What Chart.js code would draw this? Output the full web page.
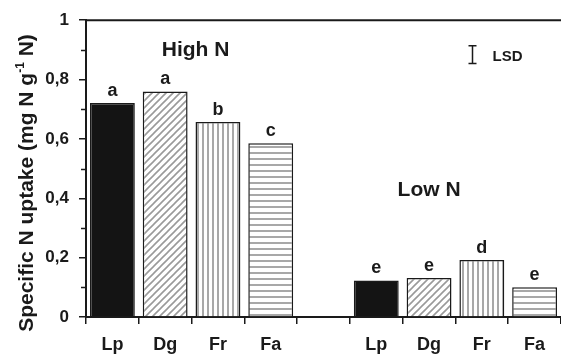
<!DOCTYPE html>
<html>
<head>
<meta charset="utf-8">
<script src="https://cdn.jsdelivr.net/npm/chart.js@4"></script>
<style>
  body { margin: 0; background: #fff; }
  canvas { display: block; }
</style>
</head>
<body>
<canvas id="uptakeChart" width="561" height="355"></canvas>
<script>
// specific N uptake per species, high vs low N supply
const species = ['Lp', 'Dg', 'Fr', 'Fa'];
const highN = [0.721, 0.760, 0.657, 0.585];
const lowN = [0.123, 0.131, 0.192, 0.100];
const highLetters = ['a', 'a', 'b', 'c'];
const lowLetters = ['e', 'e', 'd', 'e'];
const lsd = 0.06;      // LSD bar length
const lsdTop = 0.914;  // where the LSD bar starts

const FONT = '"Liberation Sans", Arial, Helvetica, sans-serif';
const INK = '#1a1a1a';

// hatch fills for the bars
function makePattern(kind) {
  const c = document.createElement('canvas');
  const g = c.getContext('2d');
  if (kind === 'diag') {
    c.width = 7; c.height = 7;
    g.fillStyle = '#fff'; g.fillRect(0, 0, 7, 7);
    g.strokeStyle = '#9a9a9a'; g.lineWidth = 1.6;
    g.beginPath();
    g.moveTo(-1, 8); g.lineTo(8, -1);
    g.moveTo(-1, 1); g.lineTo(1, -1);
    g.moveTo(6, 8); g.lineTo(8, 6);
    g.stroke();
  } else if (kind === 'vert') {
    c.width = 5; c.height = 5;
    g.fillStyle = '#fff'; g.fillRect(0, 0, 5, 5);
    g.fillStyle = '#a8a8a8'; g.fillRect(2, 0, 2, 5);
  } else {
    c.width = 6; c.height = 6;
    g.fillStyle = '#fff'; g.fillRect(0, 0, 6, 6);
    g.fillStyle = '#a8a8a8'; g.fillRect(0, 2, 6, 2);
  }
  return g.createPattern(c, 'repeat');
}

const diag = makePattern('diag');
const vert = makePattern('vert');
const horiz = makePattern('horiz');

const labels = [...species, '', ...species];
const values = [...highN, null, ...lowN];
const letters = [...highLetters, '', ...lowLetters];
const fills = ['#141414', diag, vert, horiz, 'transparent', '#141414', diag, vert, horiz];

const isMajor = v => Math.round(v * 10) % 2 === 0;

// extra drawing: frame top, minor ticks, letters, group titles, LSD, y title
const decor = {
  id: 'decor',
  afterDraw(chart) {
    const { ctx, chartArea: a } = chart;
    const x = chart.scales.x, y = chart.scales.y;
    ctx.save();
    ctx.strokeStyle = INK;
    ctx.fillStyle = INK;

    // top line
    ctx.lineWidth = 2;
    ctx.beginPath();
    ctx.moveTo(a.left, a.top);
    ctx.lineTo(a.right, a.top);
    ctx.stroke();

    // minor y ticks
    ctx.lineWidth = 1.5;
    for (let i = 1; i < 10; i += 2) {
      const py = Math.round(y.getPixelForValue(i / 10)) + 0.5;
      ctx.beginPath();
      ctx.moveTo(a.left - 5, py);
      ctx.lineTo(a.left, py);
      ctx.stroke();
    }

    // significance letters
    ctx.font = 'bold 18px ' + FONT;
    ctx.textAlign = 'center';
    ctx.textBaseline = 'alphabetic';
    chart.getDatasetMeta(0).data.forEach((bar, i) => {
      if (!letters[i]) return;
      ctx.fillText(letters[i], bar.x, bar.y - 7);
    });

    // group titles
    ctx.font = 'bold 21px ' + FONT;
    const hx = (x.getPixelForValue(1) + x.getPixelForValue(2)) / 2 + 4;
    ctx.fillText('High N', hx, y.getPixelForValue(0.88));
    ctx.fillText('Low N', x.getPixelForValue(6), y.getPixelForValue(0.409));

    // LSD bar
    const lx = Math.round(x.getPixelForValue(7) - 10) + 0.5;
    const y1 = y.getPixelForValue(lsdTop);
    const y2 = y.getPixelForValue(lsdTop - lsd);
    ctx.lineWidth = 1.5;
    ctx.beginPath();
    ctx.moveTo(lx, y1); ctx.lineTo(lx, y2);
    ctx.moveTo(lx - 4, y1); ctx.lineTo(lx + 4, y1);
    ctx.moveTo(lx - 4, y2); ctx.lineTo(lx + 4, y2);
    ctx.stroke();
    ctx.font = 'bold 15px ' + FONT;
    ctx.textAlign = 'left';
    ctx.fillText('LSD', lx + 20, (y1 + y2) / 2 + 6);

    // y axis title with superscript
    const parts = [
      { t: 'Specific N uptake (mg N g', f: 'bold 21px ' + FONT, dy: 0 },
      { t: '-1', f: 'bold 12px ' + FONT, dy: -9 },
      { t: ' N)', f: 'bold 21px ' + FONT, dy: 0 }
    ];
    let total = 0;
    parts.forEach(p => { ctx.font = p.f; p.w = ctx.measureText(p.t).width; total += p.w; });
    ctx.translate(33, 183);
    ctx.rotate(-Math.PI / 2);
    let cx = -total / 2;
    parts.forEach(p => {
      ctx.font = p.f;
      ctx.fillText(p.t, cx, p.dy);
      cx += p.w;
    });
    ctx.restore();
  }
};

new Chart(document.getElementById('uptakeChart'), {
  type: 'bar',
  data: {
    labels,
    datasets: [{
      data: values,
      backgroundColor: fills,
      borderColor: INK,
      borderWidth: 1.5,
      barPercentage: 0.85,
      categoryPercentage: 1
    }]
  },
  options: {
    responsive: false,
    animation: false,
    devicePixelRatio: 1,
    layout: { padding: { top: 16, left: 0, right: 0, bottom: 0 } },
    plugins: {
      legend: { display: false },
      tooltip: { enabled: false }
    },
    scales: {
      x: {
        offset: true,
        grid: { offset: true, drawOnChartArea: false, tickLength: 7, color: INK, lineWidth: 1.5 },
        border: { color: INK, width: 2 },
        ticks: { color: INK, padding: 10, font: { family: FONT, size: 18, weight: 'bold' } },
        afterFit: s => { s.height = 38; }
      },
      y: {
        min: 0,
        max: 1,
        grid: {
          drawOnChartArea: false,
          tickLength: 7,
          lineWidth: 1.5,
          color: c => (c.tick && isMajor(c.tick.value)) ? INK : 'rgba(0,0,0,0)'
        },
        border: { color: INK, width: 2 },
        ticks: {
          stepSize: 0.1,
          padding: 10,
          color: INK,
          font: { family: FONT, size: 17, weight: 'bold' },
          callback: v => {
            if (!isMajor(v)) return '';
            const r = Math.round(v * 10) / 10;
            return (r === 0 || r === 1) ? String(r) : r.toFixed(1).replace('.', ',');
          }
        },
        afterFit: s => { s.width = 86; }
      }
    }
  },
  plugins: [decor]
});
</script>
</body>
</html>
